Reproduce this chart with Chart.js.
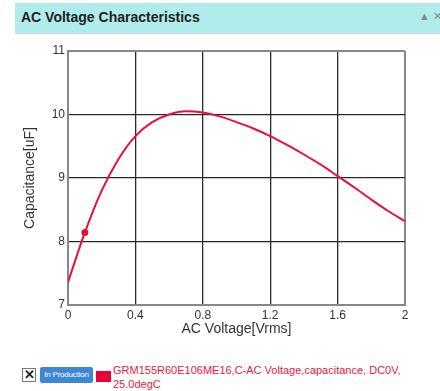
<!DOCTYPE html>
<html>
<head>
<meta charset="utf-8">
<script src="https://cdn.jsdelivr.net/npm/chart.js@4/dist/chart.umd.min.js"></script>
<style>
  body { margin: 0; width: 440px; height: 391px; background: #fff; font-family: "Liberation Sans", Arial, sans-serif; position: relative; overflow: hidden; }
  .header { position: absolute; left: 15px; top: 3px; width: 425px; height: 30px; background: #b0ecec; border-bottom: 1px solid #c8d8d8; }
  .header__title { position: absolute; left: 6px; top: 6px; font-size: 14px; font-weight: bold; color: #222; }
  .header__icons { position: absolute; right: -2px; top: 7px; font-size: 11px; color: #888; }
  .chart { position: absolute; left: 0; top: 35px; width: 440px; height: 310px; }
  .legend__check { position: absolute; left: 22px; top: 368px; width: 12px; height: 12px; border: 1px solid #777; font-size: 13px; font-weight: bold; line-height: 12px; text-align: center; color: #222; }
  .legend__badge { position: absolute; left: 40px; top: 367px; width: 53px; height: 16px; background: #3d87d4; border-radius: 2px; color: #fff; font-size: 8px; line-height: 16px; text-align: center; letter-spacing: -0.2px; }
  .legend__swatch { position: absolute; left: 96px; top: 371px; width: 15px; height: 11px; background: #e8003a; }
  .legend__text { position: absolute; left: 113px; top: 363px; width: 320px; font-size: 11px; line-height: 14px; color: #e8193c; }
</style>
</head>
<body>
<div class="header">
  <div class="header__title">AC Voltage Characteristics</div>
  <div class="header__icons">&#9650; &#10005;</div>
</div>
<div class="chart"><canvas id="acChart" width="440" height="310"></canvas></div>
<div class="legend__check">&#10005;</div>
<div class="legend__badge">In Production</div>
<div class="legend__swatch"></div>
<div class="legend__text">GRM155R60E106ME16,C-AC Voltage,capacitance, DC0V,<br>25.0degC</div>
<script>
const voltages = [0, 0.1, 0.2, 0.3, 0.4, 0.5, 0.6, 0.7, 0.8, 0.9, 1.0, 1.1, 1.2, 1.3, 1.4, 1.5, 1.6, 1.7, 1.8, 1.9, 2.0];
const capacitance = [7.36, 8.14, 8.8, 9.3, 9.66, 9.88, 10.0, 10.05, 10.03, 9.97, 9.88, 9.78, 9.66, 9.52, 9.37, 9.21, 9.03, 8.85, 8.66, 8.48, 8.32];
const xTicks = [0, 0.4, 0.8, 1.2, 1.6, 2];
const yTicks = [7, 8, 9, 10, 11];
const markedIndex = 1;

const red = "#e8103a";
const ctx = document.getElementById("acChart").getContext("2d");

const gridColor = (c, edges) => (edges.includes(c.tick.value) ? "#888" : "#2a2a2a");
const gridWidth = (c, edges) => (edges.includes(c.tick.value) ? 2 : 1.3);

new Chart(ctx, {
    type: "line",
    data: {
        datasets: [{
            data: voltages.map((v, i) => ({ x: v, y: capacitance[i] })),
            borderColor: red,
            backgroundColor: red,
            borderWidth: 2,
            cubicInterpolationMode: "monotone",
            pointRadius: (c) => (c.dataIndex === markedIndex ? 2.5 : 0),
            pointHoverRadius: 0,
        }],
    },
    options: {
        responsive: false,
        animation: false,
        layout: { padding: { top: 16, right: 35, left: 0, bottom: 0 } },
        plugins: { legend: { display: false }, tooltip: { enabled: false } },
        scales: {
            x: {
                type: "linear",
                min: 0,
                max: 2,
                afterBuildTicks: (s) => { s.ticks = xTicks.map((v) => ({ value: v })); },
                afterFit: (s) => { s.height = 40; },
                grid: { color: (c) => gridColor(c, [0, 2]), lineWidth: (c) => gridWidth(c, [0, 2]), drawTicks: false },
                border: { color: "#888", width: 2 },
                ticks: { color: "#333", padding: 3, font: { family: "Liberation Sans", size: 12 }, callback: (v) => String(v) },
                title: { display: true, text: "AC Voltage[Vrms]", color: "#333", padding: { top: 0, bottom: 7 }, font: { family: "Liberation Sans", size: 14 } },
            },
            y: {
                min: 7,
                max: 11,
                afterBuildTicks: (s) => { s.ticks = yTicks.map((v) => ({ value: v })); },
                afterFit: (s) => { s.width = 68; },
                grid: { color: (c) => gridColor(c, [7, 11]), lineWidth: (c) => gridWidth(c, [7, 11]), drawTicks: false },
                border: { color: "#888", width: 2 },
                ticks: { color: "#333", padding: 3, font: { family: "Liberation Sans", size: 12 } },
                title: { display: true, text: "Capacitance[uF]", color: "#333", padding: { top: 22, bottom: 0 }, font: { family: "Liberation Sans", size: 14 } },
            },
        },
    },
});
</script>
</body>
</html>
